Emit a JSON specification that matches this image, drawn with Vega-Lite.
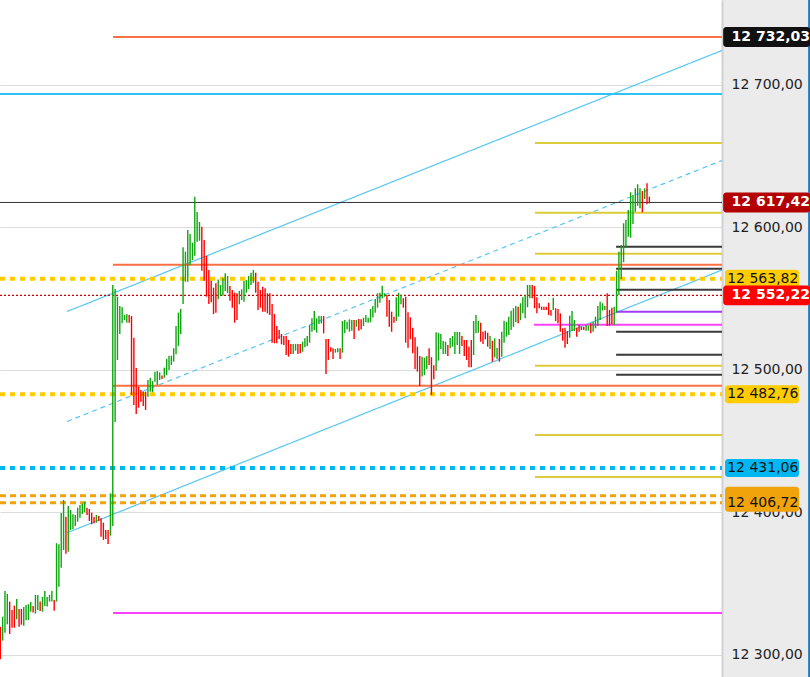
{
"$schema": "https://vega.github.io/schema/vega-lite/v6.json",
"width": 722, "height": 677,
"autosize": {"type": "none"},
"padding": {"left": 0, "top": 0, "right": 88, "bottom": 0},
"background": "#ebebeb",
"config": {
  "view": {"fill": "#ffffff", "stroke": null},
  "locale": {"number": {"decimal": ",", "thousands": " ", "grouping": [3], "currency": ["", ""]}},
  "axisY": {"grid": true, "gridColor": "#dcdcdc", "gridWidth": 1, "ticks": false, "tickSize": 0, "domainColor": "#d2d2d2", "domainWidth": 2, "labelFont": "DejaVu Sans", "labelFontSize": 14, "labelColor": "#222222", "labelAlign": "left", "labelBaseline": "middle", "labelPadding": 9}
},
"resolve": {"scale": {"color": "independent", "strokeDash": "independent"}},
"datasets": {
  "candles": [
{"i":0,"l":12296.9,"h":12319.7,"d":"dn"},{"i":1,"l":12309.9,"h":12326.7,"d":"up"},{"i":2,"l":12315.5,"h":12344.8,"d":"up"},{"i":3,"l":12321.4,"h":12342.7,"d":"up"},{"i":4,"l":12314.6,"h":12337.3,"d":"dn"},{"i":5,"l":12319.0,"h":12331.4,"d":"dn"},{"i":6,"l":12319.0,"h":12334.5,"d":"dn"},{"i":7,"l":12324.9,"h":12339.2,"d":"up"},{"i":8,"l":12319.7,"h":12332.2,"d":"dn"},{"i":9,"l":12321.1,"h":12332.2,"d":"dn"},
{"i":10,"l":12320.4,"h":12333.6,"d":"up"},{"i":11,"l":12324.2,"h":12335.0,"d":"up"},{"i":12,"l":12324.4,"h":12335.5,"d":"up"},{"i":13,"l":12330.2,"h":12337.1,"d":"up"},{"i":14,"l":12329.6,"h":12334.3,"d":"dn"},{"i":15,"l":12328.9,"h":12342.0,"d":"up"},{"i":16,"l":12331.4,"h":12342.0,"d":"up"},{"i":17,"l":12330.7,"h":12337.3,"d":"dn"},{"i":18,"l":12330.2,"h":12340.6,"d":"up"},{"i":19,"l":12334.3,"h":12344.8,"d":"up"},
{"i":20,"l":12333.8,"h":12340.6,"d":"up"},{"i":21,"l":12337.3,"h":12342.0,"d":"up"},{"i":22,"l":12337.3,"h":12344.8,"d":"up"},{"i":23,"l":12330.9,"h":12338.5,"d":"dn"},{"i":24,"l":12337.3,"h":12378.3,"d":"up"},{"i":25,"l":12347.8,"h":12377.6,"d":"up"},{"i":26,"l":12361.1,"h":12399.5,"d":"up"},{"i":27,"l":12373.5,"h":12408.6,"d":"up"},{"i":28,"l":12370.9,"h":12396.9,"d":"dn"},{"i":29,"l":12372.3,"h":12404.4,"d":"up"},
{"i":30,"l":12387.6,"h":12401.6,"d":"up"},{"i":31,"l":12388.1,"h":12398.6,"d":"up"},{"i":32,"l":12390.4,"h":12398.1,"d":"up"},{"i":33,"l":12393.4,"h":12403.2,"d":"up"},{"i":34,"l":12396.2,"h":12405.1,"d":"up"},{"i":35,"l":12398.8,"h":12406.0,"d":"up"},{"i":36,"l":12400.0,"h":12407.4,"d":"up"},{"i":37,"l":12398.1,"h":12403.2,"d":"dn"},{"i":38,"l":12393.9,"h":12402.3,"d":"dn"},{"i":39,"l":12391.6,"h":12399.7,"d":"dn"},
{"i":40,"l":12392.3,"h":12396.7,"d":"dn"},{"i":41,"l":12392.7,"h":12398.1,"d":"up"},{"i":42,"l":12393.9,"h":12397.4,"d":"dn"},{"i":43,"l":12382.9,"h":12395.8,"d":"dn"},{"i":44,"l":12380.6,"h":12392.7,"d":"dn"},{"i":45,"l":12381.3,"h":12387.6,"d":"dn"},{"i":46,"l":12377.8,"h":12387.6,"d":"dn"},{"i":47,"l":12383.6,"h":12413.3,"d":"up"},{"i":48,"l":12390.4,"h":12559.5,"d":"up"},{"i":49,"l":12463.4,"h":12556.7,"d":"up"},
{"i":50,"l":12506.9,"h":12551.3,"d":"up"},{"i":51,"l":12525.1,"h":12544.8,"d":"up"},{"i":52,"l":12532.6,"h":12543.9,"d":"up"},{"i":53,"l":12534.9,"h":12538.4,"d":"up"},{"i":54,"l":12533.0,"h":12539.1,"d":"up"},{"i":55,"l":12533.0,"h":12538.4,"d":"dn"},{"i":56,"l":12482.3,"h":12537.7,"d":"dn"},{"i":57,"l":12475.3,"h":12522.5,"d":"dn"},{"i":58,"l":12469.0,"h":12501.3,"d":"dn"},{"i":59,"l":12473.4,"h":12488.1,"d":"dn"},
{"i":60,"l":12477.6,"h":12485.8,"d":"dn"},{"i":61,"l":12474.6,"h":12484.6,"d":"dn"},{"i":62,"l":12471.8,"h":12484.6,"d":"dn"},{"i":63,"l":12481.1,"h":12492.8,"d":"up"},{"i":64,"l":12484.6,"h":12494.4,"d":"up"},{"i":65,"l":12484.2,"h":12492.1,"d":"up"},{"i":66,"l":12491.6,"h":12498.7,"d":"up"},{"i":67,"l":12489.3,"h":12499.2,"d":"up"},{"i":68,"l":12492.8,"h":12498.2,"d":"up"},{"i":69,"l":12493.5,"h":12495.9,"d":"dn"},
{"i":70,"l":12494.4,"h":12501.5,"d":"up"},{"i":71,"l":12496.3,"h":12507.6,"d":"up"},{"i":72,"l":12499.9,"h":12509.9,"d":"up"},{"i":73,"l":12503.4,"h":12509.9,"d":"up"},{"i":74,"l":12505.7,"h":12515.1,"d":"up"},{"i":75,"l":12510.9,"h":12530.7,"d":"up"},{"i":76,"l":12516.7,"h":12540.1,"d":"up"},{"i":77,"l":12525.1,"h":12542.7,"d":"up"},{"i":78,"l":12546.2,"h":12586.0,"d":"up"},{"i":79,"l":12561.8,"h":12582.9,"d":"up"},
{"i":80,"l":12561.8,"h":12598.1,"d":"up"},{"i":81,"l":12573.5,"h":12595.3,"d":"up"},{"i":82,"l":12577.0,"h":12589.2,"d":"up"},{"i":83,"l":12580.1,"h":12621.5,"d":"up"},{"i":84,"l":12589.9,"h":12610.7,"d":"up"},{"i":85,"l":12590.6,"h":12603.7,"d":"up"},{"i":86,"l":12569.5,"h":12600.4,"d":"dn"},{"i":87,"l":12562.5,"h":12591.1,"d":"dn"},{"i":88,"l":12551.3,"h":12579.9,"d":"dn"},{"i":89,"l":12546.2,"h":12570.0,"d":"dn"},
{"i":90,"l":12547.4,"h":12562.5,"d":"dn"},{"i":91,"l":12539.1,"h":12557.6,"d":"dn"},{"i":92,"l":12540.1,"h":12560.7,"d":"dn"},{"i":93,"l":12549.5,"h":12563.4,"d":"up"},{"i":94,"l":12552.1,"h":12559.5,"d":"up"},{"i":95,"l":12552.0,"h":12564.2,"d":"up"},{"i":96,"l":12555.3,"h":12567.7,"d":"up"},{"i":97,"l":12553.7,"h":12565.8,"d":"up"},{"i":98,"l":12548.5,"h":12558.8,"d":"dn"},{"i":99,"l":12543.6,"h":12556.0,"d":"dn"},
{"i":100,"l":12533.0,"h":12554.1,"d":"dn"},{"i":101,"l":12534.9,"h":12553.7,"d":"dn"},{"i":102,"l":12546.0,"h":12555.3,"d":"up"},{"i":103,"l":12549.0,"h":12556.5,"d":"up"},{"i":104,"l":12547.8,"h":12562.3,"d":"up"},{"i":105,"l":12554.1,"h":12563.0,"d":"up"},{"i":106,"l":12556.5,"h":12565.8,"d":"up"},{"i":107,"l":12559.5,"h":12568.1,"d":"up"},{"i":108,"l":12561.1,"h":12570.0,"d":"up"},{"i":109,"l":12554.1,"h":12568.1,"d":"dn"},
{"i":110,"l":12542.0,"h":12561.8,"d":"dn"},{"i":111,"l":12543.6,"h":12556.0,"d":"dn"},{"i":112,"l":12540.8,"h":12558.3,"d":"dn"},{"i":113,"l":12540.8,"h":12557.2,"d":"dn"},{"i":114,"l":12539.6,"h":12553.7,"d":"dn"},{"i":115,"l":12538.4,"h":12553.7,"d":"dn"},{"i":116,"l":12519.0,"h":12546.2,"d":"dn"},{"i":117,"l":12518.6,"h":12539.1,"d":"dn"},{"i":118,"l":12518.6,"h":12530.7,"d":"dn"},{"i":119,"l":12521.6,"h":12527.9,"d":"dn"},
{"i":120,"l":12517.9,"h":12525.1,"d":"dn"},{"i":121,"l":12517.4,"h":12523.7,"d":"dn"},{"i":122,"l":12510.4,"h":12523.7,"d":"dn"},{"i":123,"l":12509.2,"h":12520.9,"d":"dn"},{"i":124,"l":12511.1,"h":12518.1,"d":"dn"},{"i":125,"l":12511.1,"h":12518.1,"d":"up"},{"i":126,"l":12513.4,"h":12518.1,"d":"up"},{"i":127,"l":12511.1,"h":12518.1,"d":"dn"},{"i":128,"l":12511.6,"h":12518.1,"d":"dn"},{"i":129,"l":12512.7,"h":12519.7,"d":"up"},
{"i":130,"l":12515.8,"h":12522.1,"d":"up"},{"i":131,"l":12516.7,"h":12523.7,"d":"up"},{"i":132,"l":12519.0,"h":12531.4,"d":"up"},{"i":133,"l":12526.7,"h":12536.1,"d":"up"},{"i":134,"l":12527.9,"h":12541.3,"d":"up"},{"i":135,"l":12526.0,"h":12536.1,"d":"up"},{"i":136,"l":12532.1,"h":12537.7,"d":"up"},{"i":137,"l":12532.6,"h":12537.7,"d":"up"},{"i":138,"l":12525.6,"h":12537.7,"d":"dn"},{"i":139,"l":12497.0,"h":12521.6,"d":"dn"},
{"i":140,"l":12506.9,"h":12521.6,"d":"dn"},{"i":141,"l":12512.7,"h":12515.8,"d":"dn"},{"i":142,"l":12507.6,"h":12515.1,"d":"dn"},{"i":143,"l":12512.0,"h":12514.6,"d":"up"},{"i":144,"l":12512.3,"h":12515.1,"d":"up"},{"i":145,"l":12507.6,"h":12515.1,"d":"dn"},{"i":146,"l":12512.0,"h":12534.2,"d":"up"},{"i":147,"l":12525.6,"h":12534.9,"d":"up"},{"i":148,"l":12528.4,"h":12533.7,"d":"up"},{"i":149,"l":12526.7,"h":12535.4,"d":"up"},
{"i":150,"l":12527.4,"h":12534.9,"d":"up"},{"i":151,"l":12521.6,"h":12534.9,"d":"dn"},{"i":152,"l":12530.2,"h":12534.9,"d":"up"},{"i":153,"l":12527.4,"h":12535.6,"d":"dn"},{"i":154,"l":12528.4,"h":12535.4,"d":"dn"},{"i":155,"l":12530.7,"h":12536.5,"d":"up"},{"i":156,"l":12533.3,"h":12538.4,"d":"up"},{"i":157,"l":12533.0,"h":12536.5,"d":"up"},{"i":158,"l":12533.3,"h":12542.7,"d":"up"},{"i":159,"l":12536.6,"h":12544.8,"d":"up"},
{"i":160,"l":12540.1,"h":12549.7,"d":"up"},{"i":161,"l":12543.6,"h":12553.7,"d":"up"},{"i":162,"l":12547.1,"h":12554.1,"d":"up"},{"i":163,"l":12550.2,"h":12559.0,"d":"up"},{"i":164,"l":12551.3,"h":12553.7,"d":"up"},{"i":165,"l":12537.3,"h":12552.5,"d":"dn"},{"i":166,"l":12530.2,"h":12549.0,"d":"dn"},{"i":167,"l":12526.7,"h":12540.8,"d":"dn"},{"i":168,"l":12533.0,"h":12537.3,"d":"dn"},{"i":169,"l":12534.2,"h":12550.9,"d":"up"},
{"i":170,"l":12537.3,"h":12554.1,"d":"up"},{"i":171,"l":12545.9,"h":12552.5,"d":"up"},{"i":172,"l":12543.6,"h":12550.2,"d":"dn"},{"i":173,"l":12519.0,"h":12551.3,"d":"dn"},{"i":174,"l":12515.5,"h":12540.3,"d":"dn"},{"i":175,"l":12521.4,"h":12536.8,"d":"dn"},{"i":176,"l":12511.6,"h":12529.5,"d":"dn"},{"i":177,"l":12500.6,"h":12522.8,"d":"dn"},{"i":178,"l":12498.7,"h":12516.2,"d":"dn"},{"i":179,"l":12488.6,"h":12509.7,"d":"dn"},
{"i":180,"l":12495.2,"h":12509.2,"d":"up"},{"i":181,"l":12496.3,"h":12508.5,"d":"up"},{"i":182,"l":12500.3,"h":12509.7,"d":"up"},{"i":183,"l":12503.4,"h":12515.1,"d":"dn"},{"i":184,"l":12482.3,"h":12508.8,"d":"dn"},{"i":185,"l":12493.3,"h":12503.2,"d":"dn"},{"i":186,"l":12499.4,"h":12526.3,"d":"up"},{"i":187,"l":12506.4,"h":12526.0,"d":"up"},{"i":188,"l":12514.6,"h":12525.1,"d":"up"},{"i":189,"l":12511.1,"h":12520.2,"d":"up"},
{"i":190,"l":12511.1,"h":12519.7,"d":"up"},{"i":191,"l":12509.7,"h":12517.4,"d":"dn"},{"i":192,"l":12515.1,"h":12522.3,"d":"up"},{"i":193,"l":12516.2,"h":12523.7,"d":"up"},{"i":194,"l":12511.1,"h":12526.5,"d":"up"},{"i":195,"l":12517.4,"h":12526.7,"d":"up"},{"i":196,"l":12511.1,"h":12526.5,"d":"up"},{"i":197,"l":12516.7,"h":12523.7,"d":"dn"},{"i":198,"l":12509.7,"h":12520.9,"d":"dn"},{"i":199,"l":12506.9,"h":12520.9,"d":"dn"},
{"i":200,"l":12501.7,"h":12516.2,"d":"dn"},{"i":201,"l":12501.7,"h":12520.9,"d":"dn"},{"i":202,"l":12510.4,"h":12534.2,"d":"up"},{"i":203,"l":12525.6,"h":12538.4,"d":"up"},{"i":204,"l":12526.0,"h":12534.4,"d":"up"},{"i":205,"l":12519.7,"h":12533.0,"d":"dn"},{"i":206,"l":12518.1,"h":12526.7,"d":"dn"},{"i":207,"l":12521.4,"h":12527.4,"d":"dn"},{"i":208,"l":12516.2,"h":12526.0,"d":"dn"},{"i":209,"l":12514.6,"h":12523.7,"d":"up"},
{"i":210,"l":12505.7,"h":12520.4,"d":"dn"},{"i":211,"l":12508.8,"h":12522.1,"d":"up"},{"i":212,"l":12507.6,"h":12515.3,"d":"up"},{"i":213,"l":12505.7,"h":12521.6,"d":"dn"},{"i":214,"l":12509.2,"h":12526.7,"d":"up"},{"i":215,"l":12519.0,"h":12534.4,"d":"up"},{"i":216,"l":12523.2,"h":12533.7,"d":"up"},{"i":217,"l":12524.4,"h":12537.3,"d":"up"},{"i":218,"l":12527.9,"h":12541.5,"d":"up"},{"i":219,"l":12530.2,"h":12543.2,"d":"up"},
{"i":220,"l":12533.5,"h":12544.8,"d":"up"},{"i":221,"l":12532.6,"h":12544.3,"d":"dn"},{"i":222,"l":12534.9,"h":12546.7,"d":"up"},{"i":223,"l":12539.6,"h":12550.9,"d":"up"},{"i":224,"l":12536.1,"h":12552.5,"d":"up"},{"i":225,"l":12543.9,"h":12559.5,"d":"up"},{"i":226,"l":12550.2,"h":12559.5,"d":"up"},{"i":227,"l":12550.2,"h":12559.5,"d":"dn"},{"i":228,"l":12543.2,"h":12558.8,"d":"dn"},{"i":229,"l":12539.6,"h":12550.9,"d":"dn"},
{"i":230,"l":12543.2,"h":12546.7,"d":"dn"},{"i":231,"l":12542.0,"h":12544.3,"d":"dn"},{"i":232,"l":12542.0,"h":12544.3,"d":"dn"},{"i":233,"l":12542.0,"h":12544.3,"d":"dn"},{"i":234,"l":12538.4,"h":12547.1,"d":"dn"},{"i":235,"l":12538.0,"h":12542.0,"d":"dn"},{"i":236,"l":12542.0,"h":12550.6,"d":"up"},{"i":237,"l":12534.2,"h":12543.2,"d":"dn"},{"i":238,"l":12532.6,"h":12542.7,"d":"dn"},{"i":239,"l":12526.7,"h":12539.6,"d":"dn"},
{"i":240,"l":12520.4,"h":12529.1,"d":"dn"},{"i":241,"l":12515.5,"h":12529.5,"d":"dn"},{"i":242,"l":12518.1,"h":12527.2,"d":"dn"},{"i":243,"l":12522.5,"h":12538.0,"d":"up"},{"i":244,"l":12527.2,"h":12541.3,"d":"up"},{"i":245,"l":12527.2,"h":12534.9,"d":"up"},{"i":246,"l":12523.2,"h":12529.5,"d":"dn"},{"i":247,"l":12526.7,"h":12531.4,"d":"dn"},{"i":248,"l":12527.9,"h":12530.2,"d":"dn"},{"i":249,"l":12527.9,"h":12530.2,"d":"dn"},
{"i":250,"l":12527.4,"h":12531.4,"d":"up"},{"i":251,"l":12527.4,"h":12530.9,"d":"up"},{"i":252,"l":12525.6,"h":12532.6,"d":"dn"},{"i":253,"l":12526.7,"h":12533.7,"d":"up"},{"i":254,"l":12529.1,"h":12537.3,"d":"up"},{"i":255,"l":12530.9,"h":12544.8,"d":"up"},{"i":256,"l":12534.9,"h":12547.8,"d":"up"},{"i":257,"l":12541.5,"h":12546.7,"d":"up"},{"i":258,"l":12542.0,"h":12544.8,"d":"up"},{"i":259,"l":12530.9,"h":12553.7,"d":"dn"},
{"i":260,"l":12530.9,"h":12542.0,"d":"dn"},{"i":261,"l":12531.9,"h":12543.6,"d":"dn"},{"i":262,"l":12531.4,"h":12544.3,"d":"up"},{"i":263,"l":12540.3,"h":12569.5,"d":"up"},{"i":264,"l":12552.5,"h":12582.9,"d":"up"},{"i":265,"l":12563.7,"h":12587.6,"d":"up"},{"i":266,"l":12575.4,"h":12602.8,"d":"up"},{"i":267,"l":12586.4,"h":12605.1,"d":"up"},{"i":268,"l":12593.4,"h":12612.1,"d":"up"},{"i":269,"l":12592.7,"h":12624.6,"d":"up"},
{"i":270,"l":12602.3,"h":12622.7,"d":"up"},{"i":271,"l":12610.9,"h":12627.4,"d":"up"},{"i":272,"l":12615.1,"h":12630.2,"d":"up"},{"i":273,"l":12613.3,"h":12627.4,"d":"up"},{"i":274,"l":12610.5,"h":12625.5,"d":"dn"},{"i":275,"l":12619.9,"h":12627.4,"d":"up"},{"i":276,"l":12616.1,"h":12630.9,"d":"dn"},{"i":277,"l":12616.8,"h":12621.5,"d":"dn"}
  ],
  "channel": [
    {"ln":"upper","i":28.47,"v":12540.9},{"ln":"upper","i":308,"v":12724.1},
    {"ln":"mid","i":28.47,"v":12463.7},{"ln":"mid","i":308,"v":12646.9},
    {"ln":"lower","i":28.47,"v":12385.6},{"ln":"lower","i":308,"v":12570.0}
  ],
  "levels": [
    {"k":"orange","v":12733.6,"a":48.1,"b":308},
    {"k":"orange","v":12573.7,"a":48.1,"b":308},
    {"k":"orange","v":12488.8,"a":48.1,"b":308},
    {"k":"cyan","v":12693.5,"a":-0.13,"b":308},
    {"k":"pivot","v":12659.1,"a":228.2,"b":308},
    {"k":"pivot","v":12610.2,"a":228.2,"b":308},
    {"k":"pivot","v":12581.5,"a":228.2,"b":308},
    {"k":"pivot","v":12502.9,"a":228.2,"b":308},
    {"k":"pivot","v":12454.2,"a":228.2,"b":308},
    {"k":"pivot","v":12424.8,"a":228.2,"b":308},
    {"k":"short","v":12586.4,"a":262.8,"b":308},
    {"k":"short","v":12570.9,"a":262.8,"b":308},
    {"k":"short","v":12556.2,"a":262.8,"b":308},
    {"k":"short","v":12526.7,"a":262.8,"b":308},
    {"k":"short","v":12510.6,"a":262.8,"b":308},
    {"k":"short","v":12496.5,"a":262.8,"b":308},
    {"k":"purple","v":12540.8,"a":262.8,"b":308},
    {"k":"magenta","v":12531.6,"a":227.8,"b":308},
    {"k":"magenta","v":12329.3,"a":48.1,"b":308},
    {"k":"last","v":12617.42,"a":-0.13,"b":308},
    {"k":"ydash","v":12563.82,"a":-0.13,"b":308},
    {"k":"ydash","v":12482.76,"a":-0.13,"b":308},
    {"k":"cdash","v":12431.06,"a":-0.13,"b":308},
    {"k":"odash","v":12411.6,"a":-0.13,"b":308},
    {"k":"odash","v":12406.72,"a":-0.13,"b":308},
    {"k":"rdot","v":12552.22,"a":-0.13,"b":308}
  ],
  "hiddenLabel": [{"k":"odash","v":12411.6,"txt":"12 411,60"}],
  "lightLabels": [
    {"k":"ydash","v":12563.82,"txt":"12 563,82"},
    {"k":"ydash","v":12482.76,"txt":"12 482,76"},
    {"k":"cdash","v":12431.06,"txt":"12 431,06"},
    {"k":"odash","v":12406.72,"txt":"12 406,72"}
  ],
  "darkLabels": [
    {"k":"top","v":12733.6,"txt":"12 732,03"},
    {"k":"last","v":12617.42,"txt":"12 617,42"},
    {"k":"rdot","v":12552.22,"txt":"12 552,22"}
  ]
},
"layer": [
  {
    "data": {"name": "channel"},
    "mark": {"type": "line", "color": "#56c7f3", "strokeWidth": 1.2},
    "encoding": {
      "x": {"field": "i", "type": "quantitative", "scale": {"domain": [-0.13, 308], "nice": false, "zero": false}, "axis": null},
      "y": {"field": "v", "type": "quantitative", "scale": {"domain": [12284.4, 12759.5], "nice": false, "zero": false}, "title": null,
            "axis": {"orient": "right", "values": [12300, 12400, 12500, 12600, 12700], "format": ",.2f", "title": null}},
      "detail": {"field": "ln"},
      "strokeDash": {"field": "ln", "type": "nominal", "scale": {"domain": ["upper", "mid", "lower"], "range": [[1, 0], [5, 4], [1, 0]]}, "legend": null}
    }
  },
  {
    "data": {"name": "levels"},
    "transform": [{"filter": {"field": "k", "oneOf": ["orange", "cyan", "pivot", "short", "purple", "magenta"]}}],
    "mark": {"type": "rule", "strokeWidth": 2},
    "encoding": {
      "x": {"field": "a", "type": "quantitative", "scale": {"domain": [-0.13, 308], "nice": false, "zero": false}, "axis": null},
      "x2": {"field": "b"},
      "y": {"field": "v", "type": "quantitative", "scale": {"domain": [12284.4, 12759.5], "nice": false, "zero": false}, "title": null},
      "color": {"field": "k", "type": "nominal", "scale": {"domain": ["orange", "cyan", "pivot", "short", "purple", "magenta"], "range": ["#ff7043", "#2ec2f2", "#dccb3c", "#3a3a3a", "#a03cf5", "#ff40ff"]}, "legend": null}
    }
  },
  {
    "data": {"name": "levels"},
    "transform": [{"filter": {"field": "k", "equal": "last"}}],
    "mark": {"type": "rule", "strokeWidth": 1, "color": "#333333"},
    "encoding": {
      "x": {"field": "a", "type": "quantitative", "scale": {"domain": [-0.13, 308], "nice": false, "zero": false}, "axis": null},
      "x2": {"field": "b"},
      "y": {"field": "v", "type": "quantitative", "scale": {"domain": [12284.4, 12759.5], "nice": false, "zero": false}, "title": null}
    }
  },
  {
    "data": {"name": "levels"},
    "transform": [{"filter": {"field": "k", "oneOf": ["ydash", "cdash"]}}],
    "mark": {"type": "rule", "strokeWidth": 4, "strokeDash": [5, 5]},
    "encoding": {
      "x": {"field": "a", "type": "quantitative", "scale": {"domain": [-0.13, 308], "nice": false, "zero": false}, "axis": null},
      "x2": {"field": "b"},
      "y": {"field": "v", "type": "quantitative", "scale": {"domain": [12284.4, 12759.5], "nice": false, "zero": false}, "title": null},
      "color": {"field": "k", "type": "nominal", "scale": {"domain": ["ydash", "cdash"], "range": ["#ffcc00", "#00b7f1"]}, "legend": null}
    }
  },
  {
    "data": {"name": "levels"},
    "transform": [{"filter": {"field": "k", "equal": "odash"}}],
    "mark": {"type": "rule", "strokeWidth": 3, "strokeDash": [6, 4], "color": "#f0a30a"},
    "encoding": {
      "x": {"field": "a", "type": "quantitative", "scale": {"domain": [-0.13, 308], "nice": false, "zero": false}, "axis": null},
      "x2": {"field": "b"},
      "y": {"field": "v", "type": "quantitative", "scale": {"domain": [12284.4, 12759.5], "nice": false, "zero": false}, "title": null}
    }
  },
  {
    "data": {"name": "levels"},
    "transform": [{"filter": {"field": "k", "equal": "rdot"}}],
    "mark": {"type": "rule", "strokeWidth": 1.2, "strokeDash": [2, 2], "color": "#c80000"},
    "encoding": {
      "x": {"field": "a", "type": "quantitative", "scale": {"domain": [-0.13, 308], "nice": false, "zero": false}, "axis": null},
      "x2": {"field": "b"},
      "y": {"field": "v", "type": "quantitative", "scale": {"domain": [12284.4, 12759.5], "nice": false, "zero": false}, "title": null}
    }
  },
  {
    "data": {"name": "candles"},
    "mark": {"type": "rule", "strokeWidth": 1.4},
    "encoding": {
      "x": {"field": "i", "type": "quantitative", "scale": {"domain": [-0.13, 308], "nice": false, "zero": false}, "axis": null},
      "y": {"field": "l", "type": "quantitative", "scale": {"domain": [12284.4, 12759.5], "nice": false, "zero": false}, "title": null},
      "y2": {"field": "h"},
      "color": {"field": "d", "type": "nominal", "scale": {"domain": ["up", "dn"], "range": ["#0ea60e", "#ff0000"]}, "legend": null}
    }
  },
  {
    "data": {"values": [{}]},
    "mark": {"type": "rule", "strokeWidth": 2.5, "color": "#1f77c0", "clip": false},
    "encoding": {
      "x": {"datum": 345.3, "type": "quantitative", "scale": {"domain": [-0.13, 308], "nice": false, "zero": false}, "axis": null},
      "y": {"datum": 12284.4, "type": "quantitative", "scale": {"domain": [12284.4, 12759.5], "nice": false, "zero": false}, "title": null},
      "y2": {"datum": 12759.5}
    }
  },
  {
    "data": {"name": "hiddenLabel"},
    "transform": [{"calculate": "datum.v + 6.3", "as": "t"}, {"calculate": "datum.v - 6.3", "as": "u"}],
    "mark": {"type": "rect", "clip": false, "cornerRadius": 3, "color": "#f0a30a"},
    "encoding": {
      "x": {"datum": 309.3, "type": "quantitative", "scale": {"domain": [-0.13, 308], "nice": false, "zero": false}, "axis": null},
      "x2": {"datum": 340.9},
      "y": {"field": "t", "type": "quantitative", "scale": {"domain": [12284.4, 12759.5], "nice": false, "zero": false}, "title": null},
      "y2": {"field": "u"}
    }
  },
  {
    "data": {"name": "hiddenLabel"},
    "mark": {"type": "text", "clip": false, "align": "left", "baseline": "middle", "dy": 4, "font": "DejaVu Sans", "fontSize": 14, "color": "#111111"},
    "encoding": {
      "x": {"datum": 310.2, "type": "quantitative", "scale": {"domain": [-0.13, 308], "nice": false, "zero": false}, "axis": null},
      "y": {"field": "v", "type": "quantitative", "scale": {"domain": [12284.4, 12759.5], "nice": false, "zero": false}, "title": null},
      "text": {"field": "txt"}
    }
  },
  {
    "data": {"name": "lightLabels"},
    "transform": [{"calculate": "datum.v + 6.3", "as": "t"}, {"calculate": "datum.v - 6.3", "as": "u"}],
    "mark": {"type": "rect", "clip": false, "cornerRadius": 3},
    "encoding": {
      "x": {"datum": 309.3, "type": "quantitative", "scale": {"domain": [-0.13, 308], "nice": false, "zero": false}, "axis": null},
      "x2": {"datum": 340.9},
      "y": {"field": "t", "type": "quantitative", "scale": {"domain": [12284.4, 12759.5], "nice": false, "zero": false}, "title": null},
      "y2": {"field": "u"},
      "color": {"field": "k", "type": "nominal", "scale": {"domain": ["ydash", "cdash", "odash"], "range": ["#ffcc00", "#00b7f1", "#f0a30a"]}, "legend": null}
    }
  },
  {
    "data": {"name": "lightLabels"},
    "mark": {"type": "text", "clip": false, "align": "left", "baseline": "middle", "font": "DejaVu Sans", "fontSize": 14, "color": "#111111"},
    "encoding": {
      "x": {"datum": 310.2, "type": "quantitative", "scale": {"domain": [-0.13, 308], "nice": false, "zero": false}, "axis": null},
      "y": {"field": "v", "type": "quantitative", "scale": {"domain": [12284.4, 12759.5], "nice": false, "zero": false}, "title": null},
      "text": {"field": "txt"}
    }
  },
  {
    "data": {"name": "darkLabels"},
    "transform": [{"calculate": "datum.v + 7", "as": "t"}, {"calculate": "datum.v - 7", "as": "u"}],
    "mark": {"type": "rect", "clip": false, "cornerRadius": 3},
    "encoding": {
      "x": {"datum": 308.5, "type": "quantitative", "scale": {"domain": [-0.13, 308], "nice": false, "zero": false}, "axis": null},
      "x2": {"datum": 345.6},
      "y": {"field": "t", "type": "quantitative", "scale": {"domain": [12284.4, 12759.5], "nice": false, "zero": false}, "title": null},
      "y2": {"field": "u"},
      "color": {"field": "k", "type": "nominal", "scale": {"domain": ["top", "last", "rdot"], "range": ["#111111", "#b30000", "#ff0000"]}, "legend": null}
    }
  },
  {
    "data": {"name": "darkLabels"},
    "mark": {"type": "text", "clip": false, "align": "left", "baseline": "middle", "font": "DejaVu Sans", "fontSize": 14, "fontWeight": "bold", "color": "#ffffff"},
    "encoding": {
      "x": {"datum": 312.1, "type": "quantitative", "scale": {"domain": [-0.13, 308], "nice": false, "zero": false}, "axis": null},
      "y": {"field": "v", "type": "quantitative", "scale": {"domain": [12284.4, 12759.5], "nice": false, "zero": false}, "title": null},
      "text": {"field": "txt"}
    }
  }
]
}
